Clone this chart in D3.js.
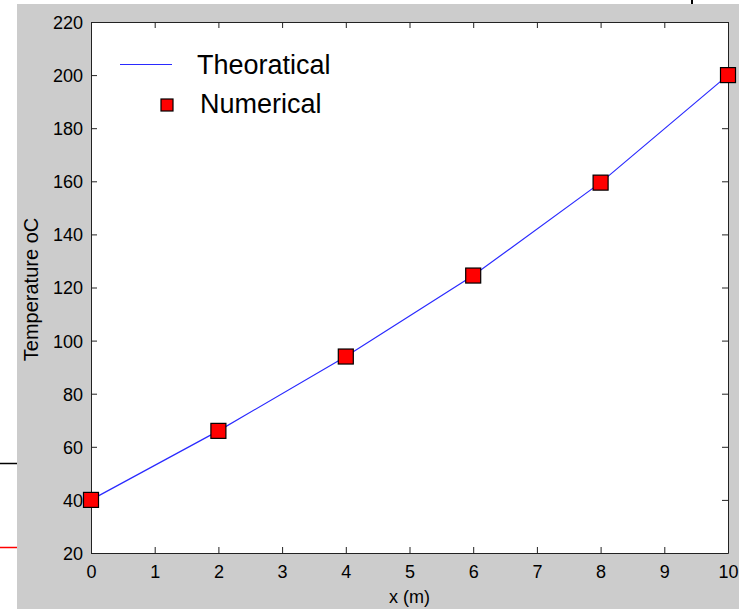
<!DOCTYPE html>
<html lang="en">
<head>
  <meta charset="utf-8" />
  <title>Temperature</title>
  <script src="https://d3js.org/d3.v7.min.js"></script>
  <style>
    body { margin: 0; background: #fff; }
    svg text { font-family: "Liberation Sans", Arial, sans-serif; fill: #000; }
  </style>
</head>
<body>
<div id="chart"></div>
<script>
  // data
  var xTicks = [0, 1, 2, 3, 4, 5, 6, 7, 8, 9, 10];
  var yTicks = [20, 40, 60, 80, 100, 120, 140, 160, 180, 200, 220];
  var theoX = [0, 2, 4, 6, 8, 10];
  var theoY = [40, 66, 94, 124.5, 159.5, 200];
  var numX = [0, 2, 4, 6, 8, 10];
  var numY = [40, 66, 94, 124.5, 159.5, 200];
  var legendLabels = ["Theoratical", "Numerical"];

  var W = 739, H = 609;
  var box = {left: 91, top: 22, right: 728, bottom: 553};

  var svg = d3.select("#chart").append("svg")
    .attr("width", W)
    .attr("height", H);

  // figure background
  svg.append("rect")
    .attr("x", 17).attr("y", 4)
    .attr("width", W - 17).attr("height", H - 4)
    .attr("fill", "#cccccc");

  // stray bits at the edges of the screenshot
  svg.append("line").attr("x1", 0).attr("x2", 17).attr("y1", 463.5).attr("y2", 463.5)
    .attr("stroke", "#000").attr("stroke-width", 1.5);
  svg.append("line").attr("x1", 0).attr("x2", 17).attr("y1", 547.5).attr("y2", 547.5)
    .attr("stroke", "#ff0000").attr("stroke-width", 1.5);
  svg.append("line").attr("x1", 692).attr("x2", 692).attr("y1", 0).attr("y2", 4)
    .attr("stroke", "#000").attr("stroke-width", 2);

  var x = d3.scaleLinear().domain([0, 10]).range([box.left, box.right]);
  var y = d3.scaleLinear().domain([20, 220]).range([box.bottom, box.top]);

  svg.append("rect")
    .attr("x", box.left).attr("y", box.top)
    .attr("width", box.right - box.left).attr("height", box.bottom - box.top)
    .attr("fill", "#fff");

  var tickLen = 6;

  // axes (ticks inside, mirrored on top and right)
  var gx = svg.append("g").attr("transform", "translate(0," + box.bottom + ")")
    .call(d3.axisBottom(x).tickValues(xTicks).tickSizeInner(-tickLen).tickSizeOuter(0).tickPadding(12).tickFormat(d3.format("d")));
  var gxt = svg.append("g").attr("transform", "translate(0," + box.top + ")")
    .call(d3.axisTop(x).tickValues(xTicks).tickSizeInner(-tickLen).tickSizeOuter(0).tickFormat(""));
  var gy = svg.append("g").attr("transform", "translate(" + box.left + ",0)")
    .call(d3.axisLeft(y).tickValues(yTicks).tickSizeInner(-tickLen).tickSizeOuter(0).tickPadding(8).tickFormat(d3.format("d")));
  var gyr = svg.append("g").attr("transform", "translate(" + box.right + ",0)")
    .call(d3.axisRight(y).tickValues(yTicks).tickSizeInner(-tickLen).tickSizeOuter(0).tickFormat(""));

  [gx, gxt, gy, gyr].forEach(function(g) {
    g.selectAll("path, line").attr("stroke", "#222");
    g.selectAll("text").style("font-size", "18px").attr("fill", "#1a1a1a");
  });
  gx.selectAll("text").attr("dy", "0.71em");
  gy.selectAll("text").attr("dy", "0.36em");

  // theoretical line
  var line = d3.line()
    .x(function(d) { return x(d[0]); })
    .y(function(d) { return y(d[1]); });
  svg.append("path")
    .datum(d3.zip(theoX, theoY))
    .attr("d", line)
    .attr("fill", "none")
    .attr("stroke", "#2a2aff")
    .attr("stroke-width", 1.2);

  // numerical markers
  var ms = 15;
  svg.selectAll("rect.num")
    .data(d3.zip(numX, numY))
    .enter().append("rect")
    .attr("class", "num")
    .attr("x", function(d) { return x(d[0]) - ms / 2; })
    .attr("y", function(d) { return y(d[1]) - ms / 2; })
    .attr("width", ms).attr("height", ms)
    .attr("fill", "#ff0000")
    .attr("stroke", "#000")
    .attr("stroke-width", 1.2);

  // legend
  var lg = svg.append("g");
  lg.append("line").attr("x1", 120).attr("x2", 172).attr("y1", 64.5).attr("y2", 64.5)
    .attr("stroke", "#2a2aff").attr("stroke-width", 1.2);
  lg.append("rect").attr("x", 161).attr("y", 99).attr("width", 12).attr("height", 12)
    .attr("fill", "#ff0000").attr("stroke", "#000").attr("stroke-width", 1.2);
  lg.selectAll("text")
    .data(legendLabels)
    .enter().append("text")
    .attr("x", function(d, i) { return i === 0 ? 197 : 200; })
    .attr("y", function(d, i) { return i === 0 ? 74 : 113; })
    .style("font-size", "27px")
    .text(function(d) { return d; });

  // axis labels
  svg.append("text")
    .attr("x", (box.left + box.right) / 2)
    .attr("y", 603)
    .attr("text-anchor", "middle")
    .style("font-size", "18px")
    .text("x (m)");
  svg.append("text")
    .attr("transform", "translate(38," + ((box.top + box.bottom) / 2 + 2) + ") rotate(-90)")
    .attr("text-anchor", "middle")
    .style("font-size", "20px")
    .text("Temperature oC");
</script>
</body>
</html>
